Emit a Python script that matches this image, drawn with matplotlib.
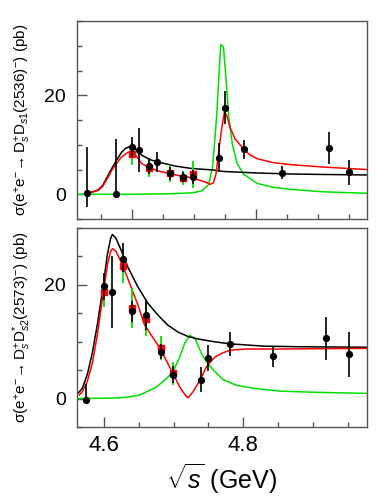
"""Cross sections of e+e- -> Ds+ Ds1(2536)- and Ds+ Ds2*(2573)- with fit curves."""
import matplotlib
matplotlib.use("Agg")
import matplotlib.pyplot as plt
from matplotlib.ticker import MultipleLocator, FixedLocator

plt.rcParams["font.family"] = ["Liberation Sans", "DejaVu Sans"]
plt.rcParams["mathtext.fontset"] = "custom"
plt.rcParams["mathtext.rm"] = "Liberation Sans"
plt.rcParams["mathtext.it"] = "Liberation Sans:italic"
plt.rcParams["mathtext.sf"] = "Liberation Sans"

# ---- data: D_s1(2536) ----
E_top = [4.527, 4.575, 4.600, 4.612, 4.628, 4.641, 4.661, 4.682, 4.699,
         4.740, 4.750, 4.781, 4.843, 4.918, 4.951]
sig_top = [0.3, 0.0, 9.5, 8.9, 5.7, 6.5, 4.2, 3.5, 3.5, 7.4, 17.4, 9.1, 4.3, 9.4, 4.4]
up_top = [9.2, 11.2, 2.0, 4.4, 1.6, 2.0, 1.3, 1.0, 1.5, 3.0, 3.4, 1.9, 1.4, 3.1, 2.6]
dn_top = [2.8, 0.0, 2.0, 4.4, 1.6, 2.0, 1.3, 1.0, 1.5, 2.9, 3.2, 1.9, 1.3, 3.2, 2.5]

E_top_alt = [4.600, 4.628, 4.661, 4.682, 4.699]
sig_top_alt = [8.1, 5.4, 4.2, 3.3, 4.0]
err_top_alt = [2.2, 2.0, 1.8, 1.5, 2.7]

# fit curves
E_top_black = [4.525, 4.535, 4.546, 4.553, 4.562, 4.568, 4.574, 4.583, 4.590, 4.596,
               4.602, 4.609, 4.616, 4.629, 4.643, 4.670, 4.697, 4.732, 4.748, 4.802,
               4.855, 4.909, 4.979]
s_top_black = [0.2, 0.4, 0.9, 1.8, 3.9, 5.3, 6.6, 8.4, 9.3, 9.6,
               9.5, 8.8, 7.9, 7.0, 6.5, 5.7, 5.2, 4.9, 4.6, 4.3,
               4.1, 4.0, 3.9]
E_top_red = [4.525, 4.535, 4.546, 4.553, 4.562, 4.568, 4.574, 4.583, 4.594, 4.600,
             4.608, 4.616, 4.629, 4.643, 4.670, 4.697, 4.718, 4.7263, 4.7316, 4.736,
             4.7397, 4.7452, 4.7494, 4.7532, 4.7585, 4.7666, 4.780, 4.790, 4.802,
             4.828, 4.855, 4.909, 4.979]
s_top_red = [0.2, 0.4, 0.8, 1.6, 3.5, 4.9, 6.0, 7.5, 8.5, 8.6,
             7.6, 6.2, 5.3, 4.7, 3.9, 3.3, 2.5, 2.0, 2.3, 4.2,
             8.2, 13.5, 16.6, 15.9, 13.5, 11.2, 9.2, 8.0, 7.2,
             6.4, 6.0, 5.5, 5.0]
E_top_green = [4.512, 4.600, 4.660, 4.690, 4.700, 4.713, 4.7235, 4.730, 4.7332, 4.737,
               4.740, 4.7435, 4.7466, 4.748, 4.751, 4.756, 4.762, 4.770, 4.780, 4.802,
               4.828, 4.855, 4.909, 4.979]
s_top_green = [0.0, 0.0, 0.1, 0.25, 0.35, 0.7, 1.9, 5.2, 9.9, 16.0,
               22.9, 30.2, 30.0, 29.6, 24.9, 16.2, 10.2, 6.2, 4.1, 2.2,
               1.4, 1.0, 0.5, 0.2]

# ---- data: D*_s2(2573) ----
E_bot = [4.5745, 4.600, 4.612, 4.628, 4.641, 4.661, 4.682, 4.699,
         4.740, 4.750, 4.781, 4.843, 4.918, 4.951]
sig_bot = [-0.2, 19.7, 18.7, 24.5, 15.3, 14.6, 8.2, 4.2, 3.3, 7.15, 9.6, 7.4, 10.7, 7.8]
up_bot = [2.7, 2.4, 6.3, 2.8, 1.9, 2.7, 1.3, 1.5, 2.2, 2.3, 2.1, 1.6, 3.7, 3.9]
dn_bot = [0.0, 2.4, 6.3, 2.3, 1.9, 2.6, 1.3, 1.5, 2.2, 2.4, 2.2, 1.8, 3.9, 4.0]

E_bot_alt = [4.600, 4.628, 4.641, 4.661, 4.682, 4.699]
sig_bot_alt = [18.7, 23.3, 15.9, 14.0, 8.8, 4.4]
err_bot_alt = [2.7, 3.0, 3.5, 3.0, 2.1, 2.0]

E_bot_black = [4.5622, 4.5694, 4.5765, 4.5837, 4.5909, 4.5981, 4.6053, 4.6101, 4.6125,
               4.6173, 4.6245, 4.6341, 4.6485, 4.6629, 4.6773, 4.6917, 4.7060, 4.7204,
               4.7330, 4.7568, 4.7809, 4.8288, 4.8768, 4.9766]
s_bot_black = [0.76, 1.8, 4.2, 8.0, 13.0, 18.8, 25.3, 28.2, 28.8,
               28.2, 26.2, 23.2, 19.7, 16.8, 14.7, 12.9, 11.7, 10.9,
               10.5, 10.0, 9.6, 9.2, 9.1, 9.0]
E_bot_red = [4.5650, 4.5694, 4.5765, 4.5837, 4.5909, 4.5981, 4.6053, 4.6101, 4.6125,
             4.6173, 4.6245, 4.6341, 4.6485, 4.6586, 4.6801, 4.6993, 4.7089, 4.7186,
             4.7209, 4.7281, 4.7377, 4.7473, 4.7593, 4.7700, 4.7813, 4.8053, 4.8533,
             4.9766]
s_bot_red = [0.6, 1.2, 3.0, 6.2, 11.2, 17.4, 23.5, 25.9, 26.3,
             25.9, 24.1, 21.2, 16.6, 12.9, 8.9, 4.4, 2.0, 0.3,
             0.15, 1.2, 3.2, 5.6, 7.3, 8.0, 8.5, 8.7, 8.7,
             8.8]
E_bot_green = [4.5622, 4.600, 4.620, 4.6341, 4.6514, 4.6754, 4.6898, 4.6993, 4.7089,
               4.7161, 4.7233, 4.7305, 4.7401, 4.7473, 4.7593, 4.7712, 4.7905,
               4.8144, 4.8528, 4.9007, 4.9766]
s_bot_green = [0.0, 0.05, 0.1, 0.25, 0.6, 2.0, 3.5, 4.7, 7.3,
               9.7, 11.1, 10.6, 7.9, 6.4, 4.7, 3.3, 2.3,
               1.8, 1.3, 1.1, 0.9]

GREEN = "#00e000"
RED = "#ff0000"
SPINE = "#555555"


def draw_panel(ax, E, sig, up, dn, E_alt, sig_alt, err_alt, curves):
    for x, y, c in curves:
        ax.plot(x, y, color=c, lw=1.1, zorder=2)
    ax.errorbar(E_alt, sig_alt, yerr=err_alt, fmt="s", ms=4, color=RED, mec=RED,
                ecolor=GREEN, elinewidth=1.3, capsize=0, zorder=3)
    ax.errorbar(E, sig, yerr=[dn, up], fmt="o", ms=4.2, color="black",
                ecolor="black", elinewidth=1.2, capsize=0, zorder=4)
    for s in ax.spines.values():
        s.set_color(SPINE)
        s.set_linewidth(1.0)
    ax.yaxis.set_major_locator(FixedLocator([0, 20]))
    ax.yaxis.set_minor_locator(MultipleLocator(5))
    ax.xaxis.set_major_locator(FixedLocator([4.6, 4.8]))
    ax.xaxis.set_minor_locator(MultipleLocator(0.05))
    ax.tick_params(which="both", direction="in", top=False, right=False, color=SPINE)
    ax.tick_params(which="major", length=7, width=1.0)
    ax.tick_params(which="minor", length=3.5, width=1.0)
    ax.tick_params(axis="y", labelsize=14, pad=8)
    ax.tick_params(axis="x", labelsize=16, pad=6)


fig = plt.figure(figsize=(3.89, 4.98), dpi=100)
ax1 = fig.add_axes([0.1987, 0.5602, 0.744, 0.3976])
ax2 = fig.add_axes([0.1987, 0.1426, 0.744, 0.4002])

draw_panel(ax1, E_top, sig_top, up_top, dn_top, E_top_alt, sig_top_alt, err_top_alt,
           [(E_top_green, s_top_green, GREEN), (E_top_black, s_top_black, "black"),
            (E_top_red, s_top_red, RED)])
ax1.set_xlim(4.512, 4.979)
ax1.set_ylim(-5, 35)
ax1.tick_params(axis="x", labelbottom=False)
ax1.set_ylabel("σ(e$^{+}$e$^{-}\\!\\rightarrow$D$_{s}^{+}$D$_{s1}$(2536)$^{-}$) (pb)",
               fontsize=11)

draw_panel(ax2, E_bot, sig_bot, up_bot, dn_bot, E_bot_alt, sig_bot_alt, err_bot_alt,
           [(E_bot_green, s_bot_green, GREEN), (E_bot_black, s_bot_black, "black"),
            (E_bot_red, s_bot_red, RED)])
ax2.set_xlim(4.5622, 4.9766)
ax2.set_ylim(-5, 30)
ax2.set_ylabel("σ(e$^{+}$e$^{-}\\!\\rightarrow$D$_{s}^{+}$D$_{s2}^{*}$(2573)$^{-}$) (pb)",
               fontsize=11)
ax2.set_xlabel(r"$\sqrt{s}$ (GeV)", fontsize=18, labelpad=4)

for ax in (ax1, ax2):
    ax.yaxis.set_label_coords(-0.153, 0.5)

fig.savefig("out.png", dpi=100)
